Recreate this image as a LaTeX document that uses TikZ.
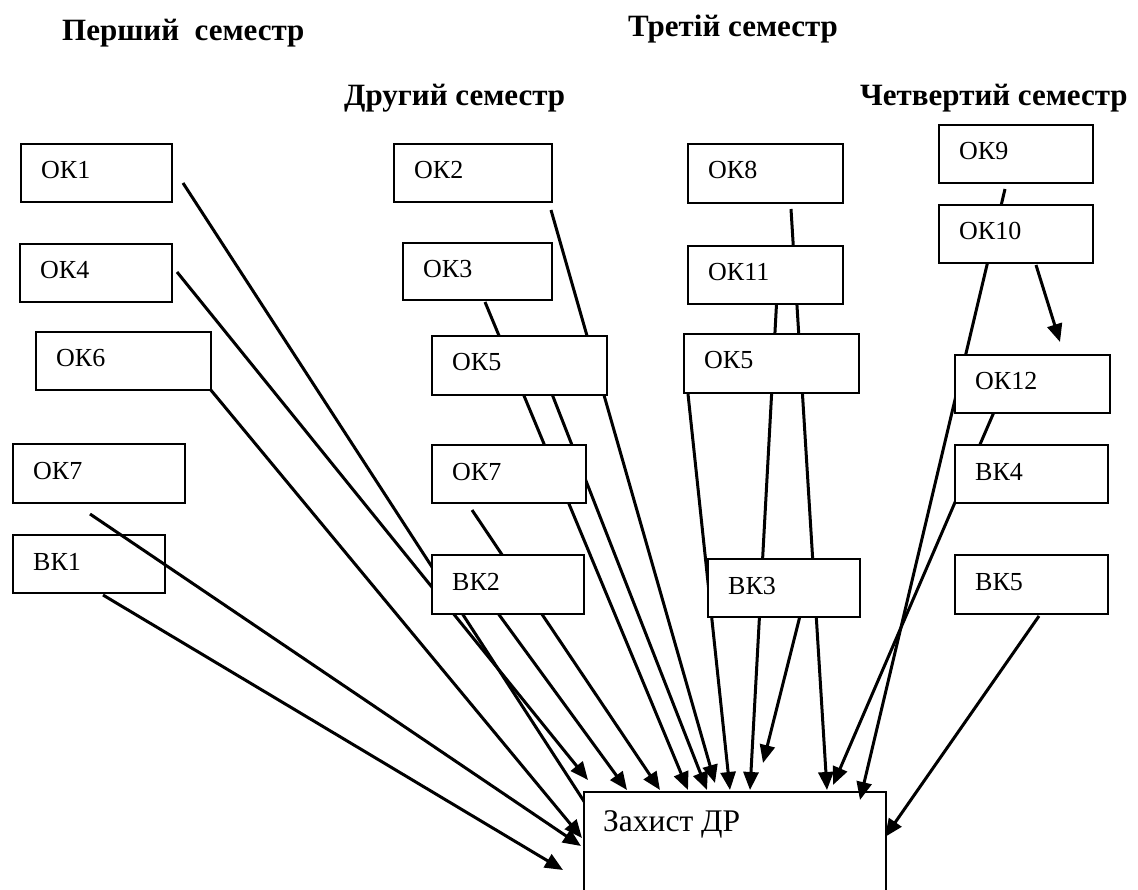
\documentclass[tikz,border=0pt]{standalone}
\usepackage{fontspec}
\setmainfont{Liberation Serif}
\usetikzlibrary{arrows.meta,calc}
\tikzset{
  boxst/.style={draw, line width=1.8pt, fill=white, inner sep=0pt, rectangle},
  boxtxt/.style={inner sep=0pt, font=\fontsize{26pt}{30pt}\selectfont},
  ttl/.style={inner sep=0pt, anchor=base west, font=\bfseries\fontsize{31pt}{36pt}\selectfont},
  conn/.style={line width=3pt, -{Triangle[length=18pt,width=15pt]}},
}
\newcommand{\drbox}[6]{%
  \node[boxst, minimum width=#4pt, minimum height=#5pt, anchor=north west] (#1) at (#2,#3) {};
  \node[boxtxt, anchor=base west] (#1t) at ($(#1.north west)+(21,36)$) {#6};}
\begin{document}
\begin{tikzpicture}[x=1pt,y=-1pt]
\useasboundingbox (0,0) rectangle (1138,890);
\clip (0,0) rectangle (1138,890);
% titles
\node[ttl] (t1) at (62,41) {Перший\ \ семестр};
\node[ttl] (t2) at (344,106) {Другий семестр};
\node[ttl] (t3) at (628,37) {Третій семестр};
\node[ttl] (t4) at (860,106) {Четвертий семестр};
% connector end points
\coordinate (ok1s) at (183,183);   \coordinate (ok1e) at (600,826);
\coordinate (ok4s) at (177,272);   \coordinate (ok4e) at (588,780);
\coordinate (ok6s) at (210,389);   \coordinate (ok6e) at (582,838);
\coordinate (ok7as) at (90,514);   \coordinate (ok7ae) at (581,846);
\coordinate (vk1s) at (103,595);   \coordinate (vk1e) at (563,870);
\coordinate (ok2s) at (551,210);   \coordinate (ok2e) at (715,783);
\coordinate (ok3s) at (485,302);   \coordinate (ok3e) at (688,790);
\coordinate (ok5as) at (552,394);  \coordinate (ok5ae) at (707,790);
\coordinate (ok7bs) at (472,510);  \coordinate (ok7be) at (660,790);
\coordinate (vk2s) at (481,590);   \coordinate (vk2e) at (627,790);
\coordinate (ok5bs) at (688,394);  \coordinate (ok5be) at (730,790);
\coordinate (ok11s) at (777,295);  \coordinate (ok11e) at (750,790);
\coordinate (ok8s) at (791,209);   \coordinate (ok8e) at (827,790);
\coordinate (vk3s) at (804,600);   \coordinate (vk3e) at (763,763);
\coordinate (ok9s) at (1005,189);  \coordinate (ok9e) at (860,800);
\coordinate (ok10s) at (1036,265); \coordinate (ok10e) at (1060,342);
\coordinate (ok12s) at (994,412);  \coordinate (ok12e) at (833,785);
\coordinate (vk5s) at (1039,616);  \coordinate (vk5e) at (885,837);
% connectors lying under the boxes
\draw[conn] (ok1s) -- (ok1e);
\draw[conn] (ok4s) -- (ok4e);
\draw[conn] (ok6s) -- (ok6e);
\draw[conn] (vk1s) -- (vk1e);
\draw[conn] (ok2s) -- (ok2e);
\draw[conn] (ok3s) -- (ok3e);
\draw[conn] (ok5as) -- (ok5ae);
\draw[conn] (ok7bs) -- (ok7be);
\draw[conn] (vk2s) -- (vk2e);
\draw[conn] (ok5bs) -- (ok5be);
\draw[conn] (ok11s) -- (ok11e);
\draw[conn] (ok8s) -- (ok8e);
\draw[conn] (vk3s) -- (vk3e);
\draw[conn] (ok10s) -- (ok10e);
\draw[conn] (ok12s) -- (ok12e);
\draw[conn] (vk5s) -- (vk5e);
% target box
\node[boxst, minimum width=302pt, minimum height=130pt, anchor=north west] (zah) at (583,791) {};
\node[inner sep=0pt, anchor=base west, font=\fontsize{31.5pt}{36pt}\selectfont] (zaht) at ($(zah.north west)+(20,40)$) {Захист ДР};
\draw[conn] (ok9s) -- (ok9e);
% boxes
\drbox{ok1}{20}{143}{151}{58}{ОК1}
\drbox{ok4}{19}{243}{152}{58}{ОК4}
\drbox{ok6}{35}{331}{175}{58}{ОК6}
\drbox{ok7a}{12}{443}{172}{59}{ОК7}
\drbox{vk1}{12}{534}{152}{58}{ВК1}
\drbox{ok2}{393}{143}{158}{58}{ОК2}
\drbox{ok3}{402}{242}{149}{57}{ОК3}
\drbox{ok5a}{431}{335}{175}{59}{ОК5}
\drbox{ok7b}{431}{444}{154}{58}{ОК7}
\drbox{vk2}{431}{554}{152}{59}{ВК2}
\drbox{ok8}{687}{143}{155}{59}{ОК8}
\drbox{ok11}{687}{245}{155}{58}{ОК11}
\drbox{ok5b}{683}{333}{175}{59}{ОК5}
\drbox{vk3}{707}{558}{152}{58}{ВК3}
\drbox{ok9}{938}{124}{154}{58}{ОК9}
\drbox{ok10}{938}{204}{154}{58}{ОК10}
\drbox{ok12}{954}{354}{155}{58}{ОК12}
\drbox{vk4}{954}{444}{153}{58}{ВК4}
\drbox{vk5}{954}{554}{153}{59}{ВК5}
% connector lying over box ВК1
\draw[conn] (ok7as) -- (ok7ae);
\end{tikzpicture}
\end{document}
